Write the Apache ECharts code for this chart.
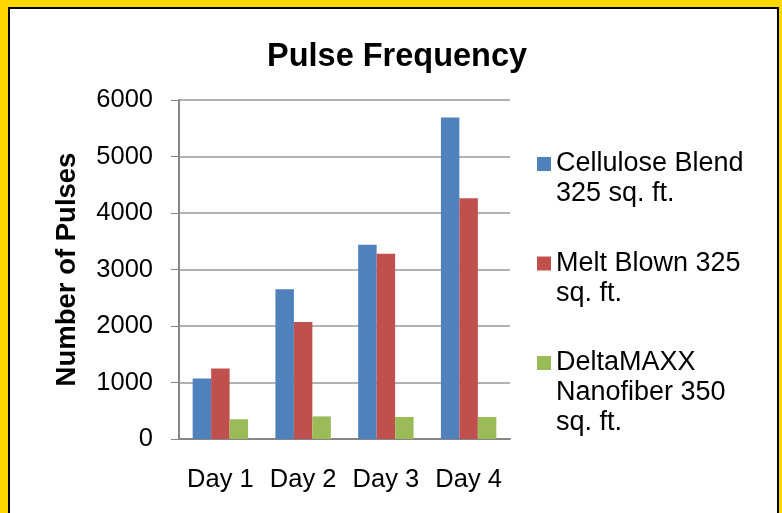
<!DOCTYPE html>
<html>
<head>
<meta charset="utf-8">
<title>Pulse Frequency</title>
<script src="https://cdn.jsdelivr.net/npm/echarts@6/dist/echarts.min.js"></script>
<style>
    html, body { margin: 0; padding: 0; }
    body { width: 782px; height: 513px; background: #FFD700; position: relative; overflow: hidden; }
    #frame { position: absolute; left: 8px; top: 7px; width: 771px; height: 530px; box-sizing: border-box; border: 2px solid #000; background: #fff; }
    #main { position: absolute; left: 0; top: 0; width: 782px; height: 513px; }
</style>
</head>
<body>
<div id="frame"></div>
<div id="main"></div>
<script>
// data
const categories = ['Day 1', 'Day 2', 'Day 3', 'Day 4']
const cellulose = [1070, 2650, 3440, 5690]
const meltBlown = [1250, 2070, 3280, 4260]
const deltaMaxx = [350, 400, 390, 390]
const seriesNames = ['Cellulose Blend\n325 sq. ft.', 'Melt Blown 325\nsq. ft.', 'DeltaMAXX\nNanofiber 350\nsq. ft.']
const yTicks = [0, 1000, 2000, 3000, 4000, 5000, 6000]

const FONT = 'Liberation Sans, Arial, sans-serif'
const colors = ['#4F81BD', '#C0504D', '#9BBB59']

// one legend per item so each can sit at its own height.
// legend text is always centred on the icon, so blank lines are put in front
// to bring the first real line level with the icon
function legendItem(name, firstLineY) {
    let lines = name.split('\n').length
    let blank = '\n'.repeat(lines - 1)
    let total = lines * 2 - 1
    return {
        orient: 'vertical',
        left: 537,
        top: firstLineY - total * 30 / 2,
        padding: 0,
        itemWidth: 14,
        itemHeight: 14,
        icon: 'rect',
        selectedMode: false,
        data: [name],
        formatter: n => blank + n,
        textStyle: {
            fontFamily: FONT,
            fontSize: 27,
            lineHeight: 30,
            color: '#000'
        }
    }
}

const chart = echarts.init(document.getElementById('main'))

chart.setOption({
    animation: false,
    color: colors,
    title: {
        text: 'Pulse Frequency',
        left: 267,
        top: 41,
        padding: 0,
        textStyle: { fontFamily: FONT, fontSize: 32.5, fontWeight: 'bold', color: '#000' }
    },
    legend: [
        legendItem(seriesNames[0], 164),
        legendItem(seriesNames[1], 263.5),
        legendItem(seriesNames[2], 363)
    ],
    grid: { left: 179, right: 272, top: 100, bottom: 74, containLabel: false },
    xAxis: {
        type: 'category',
        data: categories,
        axisLine: { lineStyle: { color: '#868686', width: 2 } },
        axisTick: { show: false },
        axisLabel: { interval: 0, fontFamily: FONT, fontSize: 25.5, color: '#000', margin: 28 }
    },
    yAxis: {
        type: 'value',
        min: yTicks[0],
        max: yTicks[yTicks.length - 1],
        interval: 1000,
        name: 'Number of Pulses',
        nameLocation: 'middle',
        nameGap: 98,
        nameTextStyle: { fontFamily: FONT, fontSize: 27.5, fontWeight: 'bold', color: '#000' },
        axisLine: { show: true, lineStyle: { color: '#868686', width: 2 } },
        axisTick: { show: true, length: 8, lineStyle: { color: '#868686', width: 1 } },
        axisLabel: { fontFamily: FONT, fontSize: 25.5, color: '#000', margin: 26, formatter: v => String(v) },
        splitLine: { lineStyle: { color: '#999', width: 1.5 } }
    },
    series: [
        { name: seriesNames[0], type: 'bar', data: cellulose, barGap: '0%', barCategoryGap: '33%' },
        { name: seriesNames[1], type: 'bar', data: meltBlown, barGap: '0%', barCategoryGap: '33%' },
        { name: seriesNames[2], type: 'bar', data: deltaMaxx, barGap: '0%', barCategoryGap: '33%' }
    ]
})
</script>
</body>
</html>
